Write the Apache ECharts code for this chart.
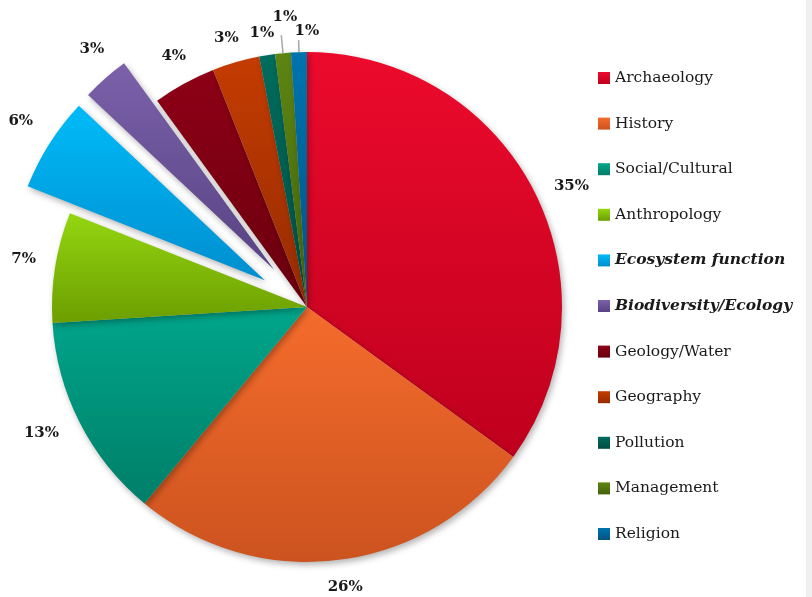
<!DOCTYPE html>
<html>
<head>
<meta charset="utf-8">
<script src="https://cdn.jsdelivr.net/npm/echarts@6/dist/echarts.min.js"></script>
<style>
  html, body { margin: 0; padding: 0; background: #ffffff; }
  #chart { width: 812px; height: 597px; }
</style>
</head>
<body>
<div id="chart"></div>
<script>
// Research topics share (%)
const categories = [
  'Archaeology', 'History', 'Social/Cultural', 'Anthropology',
  'Ecosystem function', 'Biodiversity/Ecology', 'Geology/Water',
  'Geography', 'Pollution', 'Management', 'Religion'
];
const shares = [35, 26, 13, 7, 6, 3, 4, 3, 1, 1, 1];
// topics pulled out of the pie and set in bold italic in the legend
const highlighted = ['Ecosystem function', 'Biodiversity/Ecology'];
// thin slices whose value label sits at the end of a leader line
const leaderLength = { 'Management': 18, 'Religion': 12 };

// top / bottom colours of each slice gradient
const topColors = ['#ec0a2c', '#f56c2c', '#00a68b', '#94d611', '#00bbf8', '#7b61aa', '#8e0016', '#c43c02', '#006d5d', '#5e8512', '#0074ad'];
const bottomColors = ['#bf001d', '#cc531f', '#007e69', '#6c9e00', '#008ecf', '#584383', '#68000d', '#962b00', '#004c42', '#446209', '#005283'];

const CENTER = [307, 307];
const RADIUS = 255;
const PULL = 50;

const grad = (i) => new echarts.graphic.LinearGradient(0, 0, 0, 1, [
  { offset: 0, color: topColors[i] },
  { offset: 1, color: bottomColors[i] }
]);

// visible slices (leader lines only, no text)
const sliceData = categories.map((name, i) => {
  const item = {
    name,
    value: shares[i],
    selected: highlighted.includes(name),
    itemStyle: { color: grad(i) }
  };
  if (leaderLength[name]) {
    item.label = { show: true, color: 'rgba(0,0,0,0)' };
    item.labelLine = { show: true, length: leaderLength[name], length2: 0 };
  }
  return item;
});

// label ring: same values, invisible sectors, value text centred in the ring
const labelOffsets = {
  'Archaeology': [7, 10], 'History': [2, -7], 'Social/Cultural': [-8, -5],
  'Anthropology': [2, -3], 'Ecosystem function': [0, -4], 'Biodiversity/Ecology': [9, -4],
  'Geology/Water': [6, 2], 'Geography': [0, 9], 'Pollution': [0, 12],
  'Management': [5, -2], 'Religion': [9, 13]
};
const ringData = categories.map((name, i) => {
  const offset = labelOffsets[name] || [0, 0];
  return {
    name,
    value: shares[i],
    selected: highlighted.includes(name),
    label: { offset },
    select: { label: { offset } }
  };
});

const chart = echarts.init(document.getElementById('chart'), null, { renderer: 'canvas' });
chart.setOption({
  animation: false,
  backgroundColor: '#ffffff',
  color: topColors,
  graphic: [{
    type: 'rect',
    right: 0, top: 0,
    shape: { width: 6, height: 597 },
    style: { fill: '#f0f0f0' },
    silent: true
  }],
  legend: {
    data: categories,
    orient: 'vertical',
    left: 593,
    top: 65,
    itemWidth: 12,
    itemHeight: 12,
    itemGap: 29.6,
    icon: 'rect',
    selectedMode: false,
    formatter: (name) => highlighted.includes(name) ? '{bi|' + name + '}' : name,
    textStyle: {
      fontFamily: 'DejaVu Serif',
      fontSize: 15.5,
      lineHeight: 16,
      color: '#1a1a1a',
      rich: {
        bi: { fontFamily: 'DejaVu Serif', fontSize: 15.5, lineHeight: 16, fontWeight: 'bold', fontStyle: 'italic', color: '#1a1a1a' }
      }
    }
  },
  series: [{
    type: 'pie',
    center: CENTER,
    radius: RADIUS,
    startAngle: 90,
    clockwise: true,
    selectedMode: 'multiple',
    selectedOffset: PULL,
    avoidLabelOverlap: false,
    emphasis: { disabled: true },
    labelLayout: { hideOverlap: false },
    itemStyle: {
      shadowBlur: 6,
      shadowColor: 'rgba(0,0,0,0.3)',
      shadowOffsetX: 2,
      shadowOffsetY: 3
    },
    label: { show: false, position: 'outside', formatter: '{c}%', fontSize: 14 },
    labelLine: { show: false, lineStyle: { color: '#a6a6a6', width: 1.5 } },
    data: sliceData
  }, {
    type: 'pie',
    center: CENTER,
    radius: [RADIUS + 19, RADIUS + 43],
    startAngle: 90,
    clockwise: true,
    selectedMode: 'multiple',
    selectedOffset: PULL,
    avoidLabelOverlap: false,
    silent: true,
    emphasis: { disabled: true },
    itemStyle: { color: 'rgba(0,0,0,0)' },
    labelLayout: { hideOverlap: false },
    label: {
      show: true,
      position: 'inside',
      formatter: '{c}%',
      fontFamily: 'DejaVu Serif',
      fontWeight: 'bold',
      fontSize: 15,
      color: '#1a1a1a'
    },
    labelLine: { show: false },
    data: ringData
  }]
});
</script>
</body>
</html>
